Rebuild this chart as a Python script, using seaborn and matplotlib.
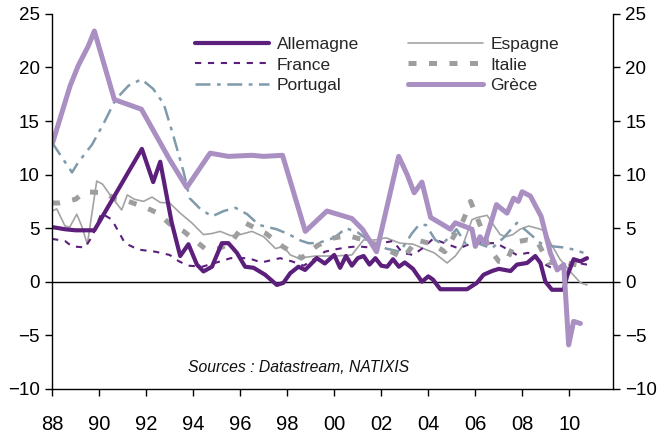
import matplotlib
matplotlib.use("Agg")
import matplotlib.pyplot as plt
import seaborn as sns
import pandas as pd

# years and values
all_years = [1988.0, 1988.55, 1989.0, 1989.8, 1991.82, 1992.3, 1992.6, 1993.09, 1993.45, 1993.8,
             1994.16, 1994.44, 1994.8, 1995.22, 1995.5, 1995.86, 1996.21, 1996.57, 1997.06, 1997.56,
             1997.84, 1998.13, 1998.48, 1998.76, 1999.26, 1999.6, 2000.0, 2000.25, 2000.5, 2000.75,
             2001.0, 2001.25, 2001.5, 2001.75, 2002.0, 2002.25, 2002.5, 2002.75, 2003.0, 2003.35,
             2003.73, 2004.0, 2004.2, 2004.51, 2005.65, 2006.07, 2006.35, 2006.71, 2007.0, 2007.5,
             2007.77, 2008.2, 2008.55, 2008.77, 2008.98, 2009.26, 2009.76, 2009.9, 2010.18, 2010.47,
             2010.75]
all_vals = [5.1, 4.9, 4.8, 4.8, 12.4, 9.3, 11.2, 5.5, 2.4, 3.5,
            1.6, 0.96, 1.4, 3.6, 3.6, 2.7, 1.4, 1.3, 0.65, -0.3,
            -0.1, 0.8, 1.4, 1.1, 2.2, 1.7, 2.5, 1.3, 2.4, 1.5,
            2.2, 2.4, 1.6, 2.2, 1.5, 1.4, 2.1, 1.4, 1.8, 1.2,
            0.0, 0.5, 0.2, -0.7, -0.7, -0.1, 0.65, 1.0, 1.2, 1.0,
            1.6, 1.75, 2.4, 1.75, 0.0, -0.75, -0.75, 0.5, 2.1, 1.9,
            2.2]

esp_years = [1988.0, 1988.2, 1988.55, 1988.75, 1989.05, 1989.26, 1989.5, 1989.9, 1990.15, 1990.5,
             1990.96, 1991.2, 1991.5, 1991.89, 1992.25, 1992.6, 1993.0, 1993.45, 1993.94, 1994.44,
             1994.8, 1995.15, 1995.6, 1996.0, 1996.5, 1997.0, 1997.5, 1997.85, 1998.13, 1998.48,
             1999.2, 2000.05, 2000.75, 2001.25, 2001.75, 2002.2, 2002.8, 2003.36, 2003.9, 2004.25,
             2004.8, 2005.15, 2005.45, 2005.86, 2006.1, 2006.5, 2006.9, 2007.06, 2007.3, 2007.6,
             2007.9, 2008.27, 2008.77, 2009.0, 2009.2, 2009.6, 2010.1, 2010.47, 2010.75]
esp_vals = [6.6, 6.8, 5.2, 5.1, 6.3, 5.2, 3.5, 9.4, 9.1, 8.0,
            6.7, 8.1, 7.7, 7.5, 7.9, 7.4, 7.35, 6.4, 5.5, 4.4,
            4.5, 4.7, 4.3, 4.4, 4.7, 4.2, 3.1, 3.3, 2.5, 2.2,
            2.4, 2.4, 2.5, 3.9, 3.9, 4.1, 3.6, 3.5, 3.0, 2.7,
            1.75, 2.4, 3.3, 5.8, 6.0, 6.2, 4.9, 4.4, 4.2, 4.4,
            4.9, 5.2, 4.9, 4.7, 3.6, 2.1, 0.8, -0.1, -0.3]

fra_years = [1988.0, 1988.55, 1988.85, 1989.4, 1989.7, 1990.1, 1990.54, 1991.1, 1991.67, 1992.4,
             1993.0, 1993.4, 1993.8, 1994.38, 1995.0, 1995.6, 1996.35, 1996.9, 1997.7, 1998.2,
             1998.7, 1999.2, 1999.6, 2000.0, 2000.5, 2001.0, 2001.5, 2002.0, 2002.5, 2002.9,
             2003.36, 2003.8, 2004.2, 2004.7, 2005.3, 2005.85, 2006.35, 2006.9, 2007.3, 2007.76,
             2008.25, 2008.98, 2009.4, 2009.8, 2010.2, 2010.75]
fra_vals = [4.0, 3.8, 3.3, 3.2, 4.2, 6.4, 5.8, 3.6, 3.0, 2.8,
            2.5, 1.9, 1.5, 1.4, 1.8, 2.2, 2.2, 1.8, 2.2, 1.9,
            1.5, 2.2, 2.8, 3.0, 3.2, 3.3, 3.2, 3.6, 3.8, 2.7,
            2.5, 3.2, 4.0, 3.6, 3.1, 3.6, 3.6, 3.6, 3.1, 2.5,
            2.7, 1.6, 1.1, 1.3, 1.8, 1.6]

ita_years = [1988.0, 1988.3, 1989.0, 1989.4, 1990.25, 1990.7, 1991.25, 1992.0, 1992.5, 1993.0,
             1993.6, 1994.5, 1995.1, 1995.6, 1996.2, 1997.1, 1997.8, 1998.6, 1999.3, 2000.0,
             2000.6, 2001.25, 2002.0, 2002.95, 2003.5, 2004.2, 2004.7, 2005.5, 2005.8, 2006.2,
             2006.6, 2007.0, 2007.3, 2007.7, 2008.2, 2008.65, 2009.1, 2009.8, 2010.47]
ita_vals = [7.35, 7.35, 7.7, 8.4, 8.3, 7.7, 7.5, 6.9, 6.4, 5.4,
            4.7, 3.1, 3.1, 3.6, 5.5, 4.5, 3.3, 2.2, 3.4, 4.1,
            4.3, 3.9, 3.3, 2.2, 3.9, 3.5, 2.8, 5.8, 7.5, 5.3,
            3.1, 1.9, 1.8, 3.7, 3.9, 3.7, 1.8, 1.8, 1.5]

por_years = [1988.0, 1988.3, 1988.85, 1989.1, 1989.7, 1990.2, 1990.7, 1991.25, 1991.8, 1992.3,
             1992.75, 1993.16, 1993.6, 1993.85, 1994.3, 1994.8, 1995.3, 1995.8, 1996.3, 1996.8,
             1997.55, 1998.1, 1998.5, 1998.9, 1999.3, 2000.0, 2000.5, 2001.0, 2001.5, 2002.2,
             2002.8, 2003.3, 2003.6, 2003.9, 2004.3, 2004.6, 2005.2, 2005.6, 2006.1, 2006.7,
             2007.2, 2007.77, 2008.2, 2008.77, 2009.3, 2009.76, 2010.2, 2010.6]
por_vals = [13.0, 12.0, 10.2, 11.1, 12.8, 14.8, 17.0, 18.3, 18.9, 18.0,
            16.6, 13.6, 10.2, 7.8, 6.8, 6.1, 6.6, 6.9, 6.3, 5.3,
            4.9, 4.4, 3.9, 3.6, 3.6, 4.1, 5.0, 4.6, 3.8, 3.1,
            2.8, 4.5, 5.3, 5.3, 3.9, 3.5, 4.9, 3.5, 3.6, 3.1,
            4.1, 5.5, 4.7, 3.6, 3.3, 3.2, 3.0, 2.7]

gre_years = [1988.0, 1988.77, 1989.12, 1989.54, 1989.8, 1990.65, 1991.8, 1993.0, 1993.73,
             1994.72, 1995.5, 1996.5, 1997.0, 1997.8, 1998.77, 1999.69, 2000.75, 2001.2, 2001.8,
             2002.74, 2003.1, 2003.4, 2003.73, 2004.1, 2004.64, 2004.94, 2005.15, 2005.86, 2006.0,
             2006.2, 2006.4, 2006.9, 2007.06, 2007.35, 2007.63, 2007.83, 2007.99, 2008.34, 2008.8,
             2009.19, 2009.48, 2009.76, 2009.97, 2010.18, 2010.47]
gre_vals = [12.8, 18.3, 20.2, 22.0, 23.4, 17.0, 16.1, 11.4, 8.8,
            12.0, 11.7, 11.8, 11.7, 11.8, 4.7, 6.6, 5.9, 4.9, 2.8,
            11.7, 10.0, 8.3, 9.3, 6.0, 5.3, 4.9, 5.5, 4.9, 3.3,
            4.2, 3.6, 7.2, 6.9, 6.4, 7.8, 7.5, 8.4, 8.0, 6.1,
            2.7, 1.1, 1.6, -5.9, -3.7, -3.9]

x_ticks = list(range(1988, 2011, 2))
x_labels = ["%02d" % (y % 100) for y in x_ticks]
y_ticks = [-10, -5, 0, 5, 10, 15, 20, 25]

sns.set_style("white")
plt.rcParams["font.family"] = ["Liberation Sans", "DejaVu Sans"]

fig, ax = plt.subplots(figsize=(6.59, 4.34), dpi=100)
fig.subplots_adjust(left=0.079, right=0.930, top=0.968, bottom=0.104)

ax.axhline(0, color="black", lw=1.0, zorder=1)

# (name, years, values, colour, width, linestyle)
series = [
    ("Allemagne", all_years, all_vals, "#5c1f7c", 3.0, "-"),
    ("France", fra_years, fra_vals, "#5c1f7c", 1.5, (0, (3, 3.2))),
    ("Portugal", por_years, por_vals, "#7f9bab", 1.8, (0, (6, 2.6, 1.5, 2.6))),
    ("Espagne", esp_years, esp_vals, "#a3a3a3", 1.2, "-"),
    ("Italie", ita_years, ita_vals, "#9e9e9e", 3.6, (0, (1.6, 2.5))),
    ("Grèce", gre_years, gre_vals, "#a98fc2", 3.6, "-"),
]
order = ["Espagne", "France", "Portugal", "Italie", "Allemagne", "Grèce"]
handles = {}
for name, xs, ys, col, lw, ls in sorted(series, key=lambda s: order.index(s[0])):
    df = pd.DataFrame({"year": xs, "value": ys})
    sns.lineplot(data=df, x="year", y="value", ax=ax, color=col, lw=lw,
                 linestyle=ls, estimator=None, label=name, legend=False)
    handles[name] = ax.lines[-1]

leg = ax.legend([handles[s[0]] for s in series], [s[0] for s in series],
                ncol=2, loc="upper center", bbox_to_anchor=(0.579, 0.98),
                frameon=False, fontsize=12.5, handlelength=4.3, handletextpad=0.45,
                labelspacing=0.3, columnspacing=2.8)

ax.set_xlim(1988, 2011.85)
ax.set_ylim(-10, 25)
ax.set_xticks(x_ticks)
ax.set_xticklabels(x_labels)
ax.set_yticks(y_ticks)
ax.set_xlabel("")
ax.set_ylabel("")

for side in ["left", "right", "bottom"]:
    ax.spines[side].set_visible(True)
    ax.spines[side].set_color("black")
    ax.spines[side].set_linewidth(1.0)
ax.spines["top"].set_visible(False)

ax.tick_params(axis="y", which="both", left=True, right=True, labelleft=True,
               labelright=True, direction="out", length=5, width=1,
               labelsize=13.5, pad=4, colors="black")
ax.tick_params(axis="x", bottom=True, direction="out", length=5, width=1,
               labelsize=14.5, pad=14, colors="black")
ax.grid(False)

ax.text(0.44, 0.056, "Sources : Datastream, NATIXIS", transform=ax.transAxes,
        ha="center", va="center", fontsize=11.3, style="italic", color="#111111")

fig.savefig("out.png", dpi=100)
